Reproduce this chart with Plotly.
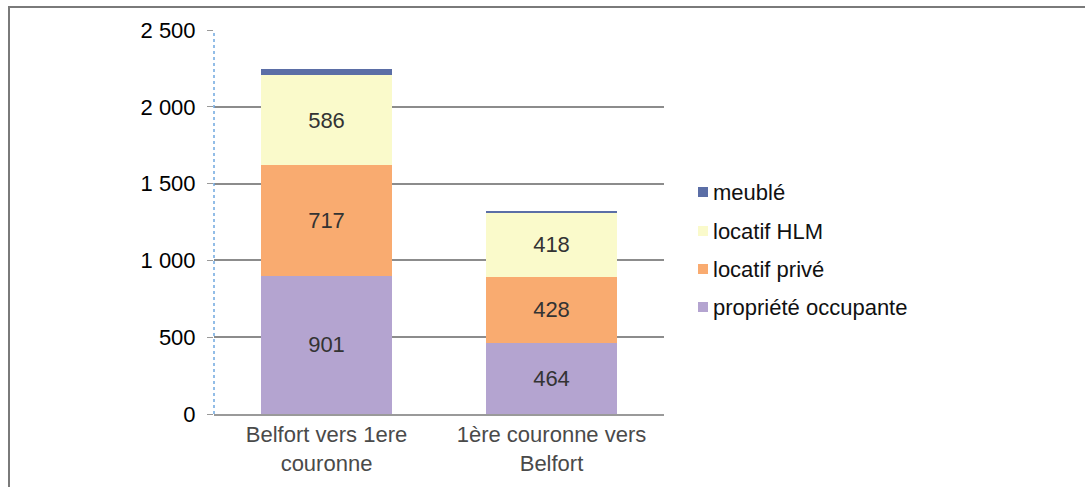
import plotly.graph_objects as go

# Categories and stacked values per tenure type
categories = ["Belfort vers 1ere<br>couronne", "1ère couronne vers<br>Belfort"]
propriete_occupante = [901, 464]
locatif_prive = [717, 428]
locatif_hlm = [586, 418]
meuble = [40, 12]

y_tickvals = [0, 500, 1000, 1500, 2000, 2500]
y_ticktext = ["0", "500", "1 000", "1 500", "2 000", "2 500"]

# (name, values, colour, show inside label)
series = [
    ("propriété occupante", propriete_occupante, "#B4A4D0", True),
    ("locatif privé", locatif_prive, "#F9AB70", True),
    ("locatif HLM", locatif_hlm, "#FAFACB", True),
    ("meublé", meuble, "#5B6EA6", False),
]

FONT = "Liberation Sans, Arial"

fig = go.Figure()
for name, vals, color, show_text in series:
    fig.add_trace(go.Bar(
        x=categories,
        y=vals,
        name=name,
        marker=dict(color=color, line=dict(width=0)),
        text=[str(v) for v in vals] if show_text else None,
        textposition="inside" if show_text else "none",
        insidetextanchor="middle",
        textfont=dict(size=22, color="#333333", family=FONT),
        hoverinfo="name+y",
        showlegend=False,
    ))

W, H = 1085, 487
L, R, T, B = 214, 421, 30, 73
pw, ph = W - L - R, H - T - B

def px_x(p):
    return (p - L) / pw

def px_y(p):
    return (H - B - p) / ph

fig.update_layout(
    width=W,
    height=H,
    margin=dict(l=L, r=R, t=T, b=B, pad=0),
    barmode="stack",
    bargap=0.42,
    paper_bgcolor="white",
    plot_bgcolor="white",
    font=dict(family=FONT, size=22, color="#111111"),
    showlegend=False,
    xaxis=dict(
        showgrid=False,
        showline=True,
        linecolor="#9a9a9a",
        linewidth=1.5,
        ticks="",
        tickfont=dict(size=22, color="#4a4a4a"),
        fixedrange=True,
    ),
    yaxis=dict(
        range=[0, 2500],
        tickvals=y_tickvals,
        ticktext=y_ticktext,
        showgrid=True,
        gridcolor="#8c8c8c",
        gridwidth=1.5,
        zeroline=False,
        showline=False,
        ticks="outside",
        ticklen=6,
        tickcolor="#9a9a9a",
        ticklabelstandoff=7,
        tickfont=dict(size=22, color="#000000"),
        fixedrange=True,
    ),
)

# legend drawn as coloured squares with labels, top entry = top of stack
legend_rows_px = [192, 231, 269, 307]
for (name, _, color, _), row in zip(reversed(series), legend_rows_px):
    fig.add_shape(type="rect", xref="paper", yref="paper",
                  x0=px_x(698), x1=px_x(708), y0=px_y(row + 5), y1=px_y(row - 5),
                  fillcolor=color, line=dict(width=0))
    fig.add_annotation(xref="paper", yref="paper", x=px_x(711), y=px_y(row),
                       text=name, showarrow=False, xanchor="left", yanchor="middle",
                       font=dict(size=22, color="#111111", family=FONT))

# dotted vertical axis line
fig.add_shape(type="line", xref="paper", yref="paper",
              x0=0, x1=0, y0=0, y1=1,
              line=dict(color="#6fa8e0", width=1.5, dash="dot"))

# outer frame of the chart
fig.add_shape(type="line", xref="paper", yref="paper",
              x0=px_x(8), x1=px_x(1085), y0=px_y(7), y1=px_y(7),
              line=dict(color="#7a7a7a", width=2))
fig.add_shape(type="line", xref="paper", yref="paper",
              x0=px_x(9), x1=px_x(9), y0=px_y(7), y1=px_y(487),
              line=dict(color="#7a7a7a", width=2))

fig.write_html("out.html")
